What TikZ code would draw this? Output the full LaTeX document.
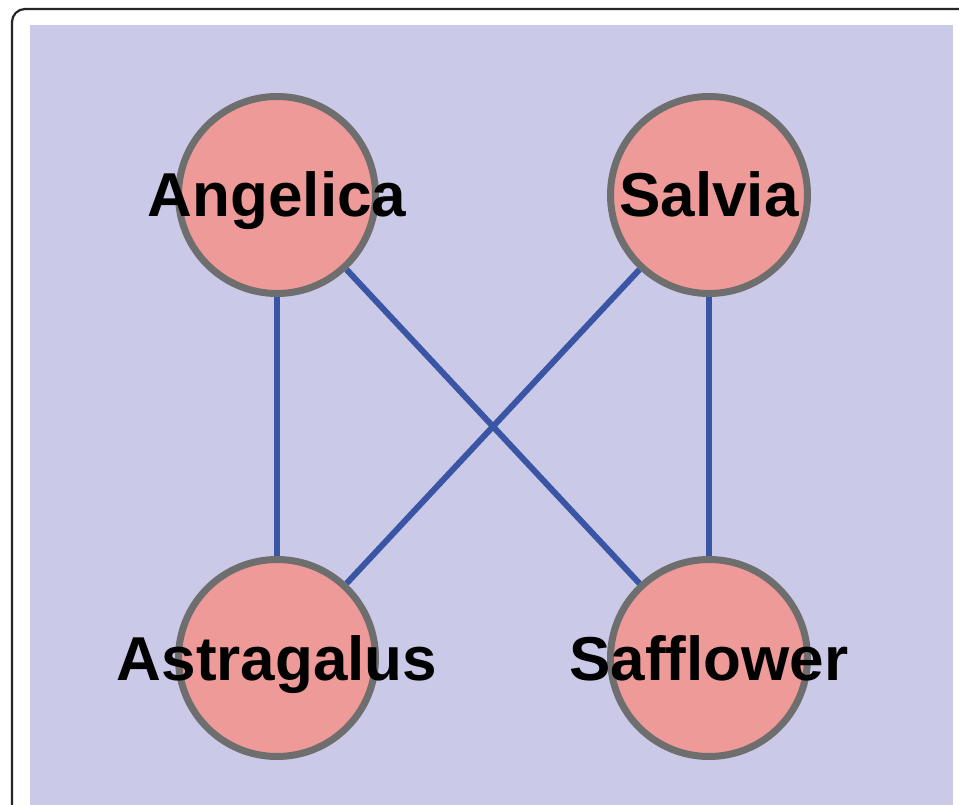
\documentclass[tikz,border=0pt]{standalone}
\usepackage{fontspec}
\setmainfont{Liberation Sans}
\definecolor{bgpanel}{HTML}{CACAE8}
\definecolor{herbfill}{HTML}{EE9A98}
\definecolor{herbline}{HTML}{6E6E6E}
\definecolor{linkblue}{HTML}{3B55A5}
\begin{document}
\begin{tikzpicture}[x=1pt, y=-1pt]
\useasboundingbox (0,0) rectangle (959,805);
\draw[line width=2.2pt, draw=black!85, rounded corners=13pt] (12,9) rectangle (985,830);
\fill[bgpanel] (30,25) rectangle (953,820);
\tikzset{herb/.style={shape=circle, draw=herbline, fill=herbfill, line width=7pt, minimum size=197pt, inner sep=0pt,
  label={[font=\fontsize{62}{62}\selectfont\bfseries, text=black, text height=58pt, text depth=14pt, inner sep=0pt]center:#1}}}
\node[herb=Angelica] (A) at (277, 195) {};
\node[herb=Salvia] (S) at (709, 195) {};
\node[herb=Astragalus] (As) at (277, 658) {};
\node[herb=Safflower] (Sf) at (709, 658) {};
\path [-, line width=6pt, draw=linkblue] (A) edge (As);
\path [-, line width=6pt, draw=linkblue] (A) edge (Sf);
\path [-, line width=6pt, draw=linkblue] (S) edge (As);
\path [-, line width=6pt, draw=linkblue] (S) edge (Sf);
\end{tikzpicture}
\end{document}
